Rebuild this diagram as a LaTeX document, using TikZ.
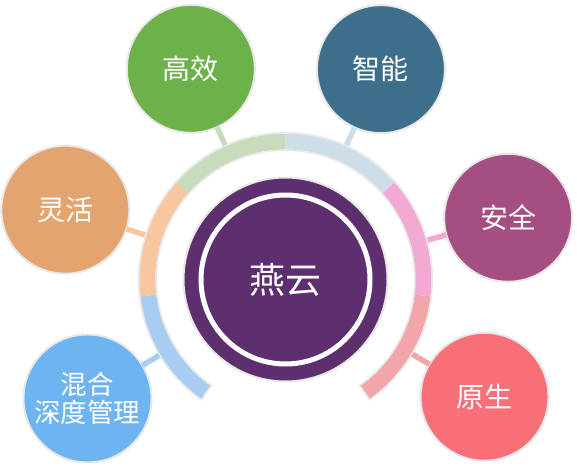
\documentclass[tikz,border=0pt]{standalone}
\usepackage{fontspec}
\newfontfamily\cjk{Noto Sans CJK SC}
\definecolor{cmain}{HTML}{5E2F6E}
\definecolor{cgreen}{HTML}{6DB14A}\definecolor{bgreen}{HTML}{C6DCBC}
\definecolor{cteal}{HTML}{3D6E8C}\definecolor{bteal}{HTML}{CDDEE8}
\definecolor{cplum}{HTML}{A54E82}\definecolor{bplum}{HTML}{F2A9D3}
\definecolor{cred}{HTML}{F96F78}\definecolor{bred}{HTML}{F3A6A9}
\definecolor{cblue}{HTML}{6EB4F0}\definecolor{bblue}{HTML}{A9CDF2}
\definecolor{corange}{HTML}{E4A46F}\definecolor{borange}{HTML}{F6C7A1}
\definecolor{rimgray}{HTML}{E8E8E8}
\tikzset{
  bubble/.style={circle, minimum size=128pt, inner sep=0pt, outer sep=0pt, draw=rimgray, line width=2pt, text=white, font=\cjk\fontsize{28}{32}\selectfont, align=center},
  stub/.style={line width=5.5pt},
}
\newcommand{\bandseg}[3]{\fill[#3] (#1:146) arc[start angle=#1, end angle=#2, radius=146] -- (#2:130) arc[start angle=#2, end angle=#1, radius=130] -- cycle;}
\begin{document}
\begin{tikzpicture}[x=1pt,y=1pt]
\useasboundingbox (-285.5,-185.5) rectangle (291.5,279.5);
% band
\bandseg{235}{186.67}{bblue}
\bandseg{186.67}{138.33}{borange}
\bandseg{138.33}{90}{bgreen}
\bandseg{90}{41.67}{bteal}
\bandseg{41.67}{-6.67}{bplum}
\bandseg{-6.67}{-55}{bred}
\draw[rimgray, line width=1.5pt] (235:146.75) arc[start angle=235, end angle=-55, radius=146.75] -- (-55:129.25) arc[start angle=-55, end angle=235, radius=129.25] -- cycle;
% central
\node[circle, minimum size=204pt, inner sep=0pt, fill=cmain, draw=rimgray, line width=2pt] (main) at (0,0) {};
\node[circle, minimum size=169pt, inner sep=0pt, draw=white, line width=5pt, text=white, font=\cjk\fontsize{36}{40}\selectfont] (core) at (main.center) {燕云};
% bubbles
\node[bubble, fill=cblue, font=\cjk\fontsize{26.5}{28.5}\selectfont] (hunhe) at (211:231) {混合\\深度管理};
\node[bubble, fill=corange] (linghuo) at (162.4:231) {灵活};
\node[bubble, fill=cgreen] (gaoxiao) at (114.2:231) {高效};
\node[bubble, fill=cteal] (zhineng) at (65.6:231) {智能};
\node[bubble, fill=cplum] (anquan) at (15.5:231) {安全};
\node[bubble, fill=cred] (yuansheng) at (-30.5:231) {原生};
% stubs
\coordinate (a1) at (211:147.5);
\coordinate (a2) at (162.4:147.5);
\coordinate (a3) at (114.2:147.5);
\coordinate (a4) at (65.6:147.5);
\coordinate (a5) at (15.5:147.5);
\coordinate (a6) at (-30.5:147.5);
\draw[stub, bblue] (a1) -- (hunhe);
\draw[stub, borange] (a2) -- (linghuo);
\draw[stub, bgreen] (a3) -- (gaoxiao);
\draw[stub, bteal] (a4) -- (zhineng);
\draw[stub, bplum] (a5) -- (anquan);
\draw[stub, bred] (a6) -- (yuansheng);
\end{tikzpicture}
\end{document}
